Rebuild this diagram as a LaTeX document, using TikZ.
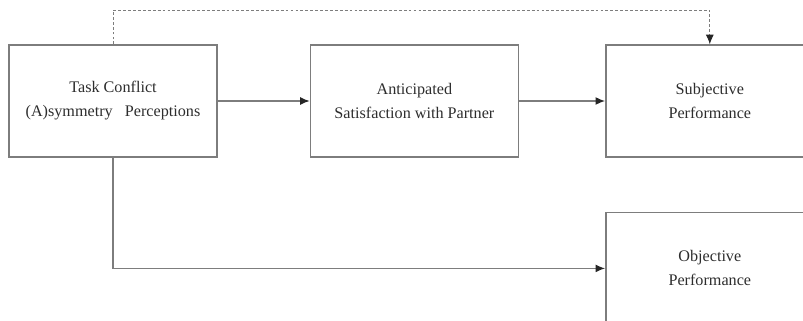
\documentclass[tikz,border=0pt]{standalone}
\usepackage{fontspec}
\setmainfont{Liberation Serif}
\usetikzlibrary{arrows.meta, positioning}
\definecolor{linecol}{RGB}{125,125,125}
\definecolor{textcol}{RGB}{45,45,45}

\begin{document}
\begin{tikzpicture}[node distance=2.3cm,
  box/.style={draw=linecol, line width=1pt, minimum width=5.2cm, minimum height=2.8cm,
    align=center, text=textcol, font=\fontsize{11.5}{17}\selectfont},
  link/.style={draw=linecol, line width=1pt, -{Latex[length=2.4mm, width=2mm, color=black!85]}}]
\useasboundingbox (0,0) rectangle (20.075,-8);
\clip (0,0) rectangle (20.075,-8);

% Boxes
\node[box] (conflict) at (2.825,-2.525) {Task Conflict\\(A)symmetry\ \ \ Perceptions};
\node[box, right=2.3cm of conflict] (satisfaction) {Anticipated\\Satisfaction with Partner};
\node[box, right=2.15cm of satisfaction] (subjective) {Subjective\\Performance};
\node[box, below=1.35cm of subjective] (objective) {Objective\\Performance};

% Paths
\draw[link] (conflict) -- (satisfaction);
\draw[link] (satisfaction) -- (subjective);
\draw[link] (conflict.south) |- (objective.west);

% Direct effect (dashed)
\draw[link, line width=0.7pt, dash pattern=on 2pt off 1.5pt] (conflict.north) -- ++(0,0.85) -| (subjective.north);
\end{tikzpicture}
\end{document}
